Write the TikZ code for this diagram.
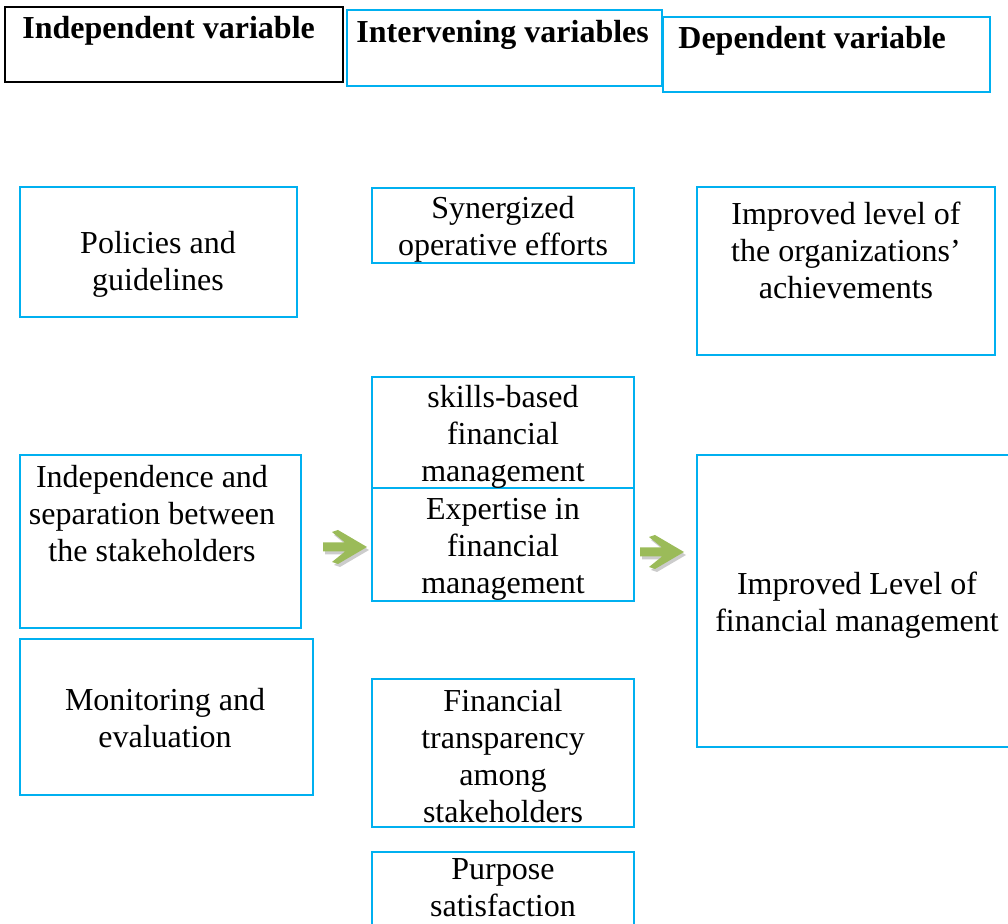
\documentclass[tikz,border=0pt]{standalone}
\usepackage{fontspec}
\setmainfont{Liberation Serif}
\usetikzlibrary{fit}
\definecolor{boxblue}{HTML}{00B0F0}
\definecolor{arrowgreen}{HTML}{9BBB59}

\tikzset{
  greenarrow/.pic={
    \fill[gray!40,shift={(2,3)}] (0,-4.5) -- (22,-4.5) -- (9,-15) -- (15,-17) -- (44,0)
      -- (15,17) -- (9,15) -- (22,4.5) -- (0,4.5) -- cycle;
    \fill[arrowgreen] (0,-4.5) -- (22,-4.5) -- (9,-15) -- (15,-17) -- (44,0)
      -- (15,17) -- (9,15) -- (22,4.5) -- (0,4.5) -- cycle;
  }
}

\begin{document}
\begin{tikzpicture}[x=0.5pt,y=-0.5pt,
  box/.style={draw=boxblue,line width=1pt,inner sep=0pt},
  head box/.style={draw=black,line width=1.3pt,inner sep=0pt},
  txt/.style={align=center,inner sep=0pt,font=\fontsize{16}{18.5}\selectfont},
  head/.style={anchor=west,inner sep=0pt,font=\fontsize{16}{18.5}\selectfont\bfseries}, ]

  \clip (0,0) rectangle (1008,924);

  % column headings
  \node[head box, fit={(5,7) (343,82)}] (indep) {};
  \node[box, fit={(347,10) (662,86)}] (interv) {};
  \node[box, fit={(663,17) (990,92)}] (dep) {};
  \node[head] (indepT) at (22,31) {Independent variable};
  \node[head] (intervT) at (356,35) {Intervening variables};
  \node[head] (depT) at (678,41) {Dependent variable};

  % independent variables
  \node[box, fit={(20,187) (297,317)}] (policies) {};
  \node[box, fit={(20,455) (301,628)}] (separation) {};
  \node[box, fit={(20,639) (313,795)}] (monitoring) {};
  \node[txt] (policiesT) at (158,264) {Policies and\\guidelines};
  \node[txt] (separationT) at (152,514) {Independence and\\separation between\\the stakeholders};
  \node[txt] (monitoringT) at (165,718) {Monitoring and\\evaluation};

  % intervening variables
  \node[box, fit={(372,188) (634,263)}] (synergy) {};
  \node[box, fit={(372,377) (634,488)}] (skills) {};
  \node[box, fit={(372,488) (634,601)}] (expertise) {};
  \node[box, fit={(372,679) (634,827)}] (transparency) {};
  \node[box, fit={(372,852) (634,940)}] (purpose) {};
  \node[txt] (synergyT) at (503,229) {Synergized\\operative efforts};
  \node[txt] (skillsT) at (503,437) {skills-based\\financial\\management};
  \node[txt] (expertiseT) at (503,549) {Expertise in\\financial\\management};
  \node[txt] (transparencyT) at (503,756) {Financial\\transparency\\among\\stakeholders};
  \node[txt] (purposeT) at (503,888) {Purpose\\satisfaction};

  % dependent variables
  \node[box, fit={(697,187) (995,355)}] (achieve) {};
  \node[box, fit={(697,455) (1020,747)}] (finance) {};
  \node[txt] (achieveT) at (846,250) {Improved level of\\the organizations’\\achievements};
  \node[txt] (financeT) at (857,605) {Improved Level of\\financial management};

  % arrows between the columns
  \pic (arrowA) at (323,547) {greenarrow};
  \pic (arrowB) at (640,552) {greenarrow};
\end{tikzpicture}
\end{document}
